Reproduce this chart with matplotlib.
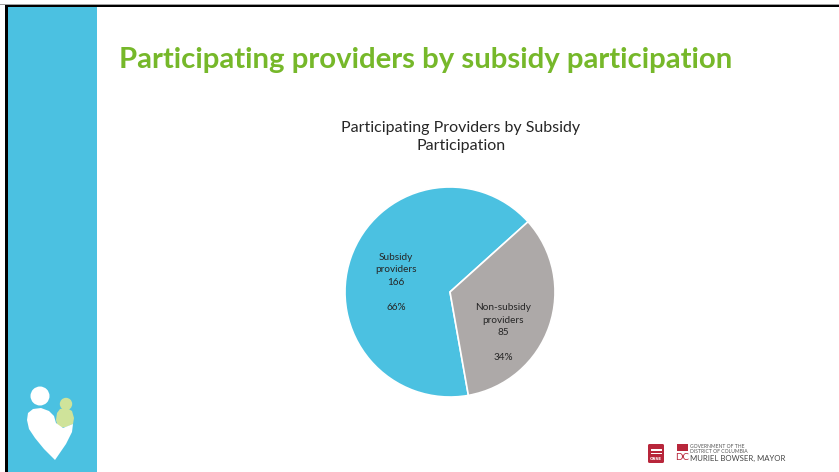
import numpy as np
from matplotlib import pyplot as plt
from matplotlib.patches import Rectangle, Circle, Polygon, FancyBboxPatch

# data
categories = ['Subsidy providers', 'Non-subsidy providers']
counts = [166, 85]
pct_labels = ['66%', '34%']
colors = ['#4BC1E1', '#ADA9A8']

slide_title = 'Participating providers by subsidy participation'
chart_title = 'Participating Providers by Subsidy\nParticipation'

W, H = 839, 472
fig = plt.figure(figsize=(W / 100, H / 100), dpi=100)
fig.patch.set_facecolor('white')

# slide background in pixel coords
bg = fig.add_axes([0, 0, 1, 1])
bg.set_xlim(0, W)
bg.set_ylim(H, 0)
bg.axis('off')

bg.add_patch(Rectangle((0, 3.5), W, 1.2, color='#A0A0A0', lw=0))
bg.add_patch(Rectangle((5, 4.7), W, 2.6, color='black', lw=0))
bg.add_patch(Rectangle((5, 4.7), 2.8, H, color='black', lw=0))
bg.add_patch(Rectangle((7.8, 7.3), 89.5, H, color='#4BC1E1', lw=0))

# little logo on the stripe
bg.add_patch(Circle((40, 396), 9.5, color='white', lw=0))
bg.add_patch(Polygon([(57, 413), (60, 409), (67, 408), (72, 411), (74, 418),
                      (73, 424), (66, 427), (58, 428), (56, 420)],
                     closed=True, color='#CFE39A', lw=0))
bg.add_patch(Circle((66, 404), 6.2, color='#CFE39A', lw=0))
bg.add_patch(Polygon([(27, 420), (28, 413), (33, 409), (41, 408), (49, 411),
                      (54, 416), (56, 423), (63, 428), (73, 424), (72, 432),
                      (66, 444), (55, 460), (44, 449), (35, 438), (29, 429)],
                     closed=True, color='white', lw=0))

bg.text(425.5, 60, slide_title, color='#76B82A', fontsize=21.2, fontweight='bold',
        family='Lato', ha='center', va='center')

# DC / OSSE logo bottom right
bg.add_patch(FancyBboxPatch((648, 444), 16, 19, boxstyle='round,pad=0,rounding_size=1.5',
                            color='#B8263B', lw=0))
for yy in (449, 452.5):
    bg.add_patch(Rectangle((650.5, yy), 11, 1.6, color='white', lw=0))
bg.text(656, 459.5, 'OSSE', color='white', fontsize=3, fontweight='bold',
        ha='center', va='center', family='DejaVu Sans')
bg.add_patch(Rectangle((677, 444), 11, 7, color='#B8263B', lw=0))
bg.text(682.5, 457, 'DC', color='#B8263B', fontsize=7, ha='center', va='center',
        family='Lato')
bg.text(690, 446.5, 'GOVERNMENT OF THE', color='#555555', fontsize=3.6,
        ha='left', va='center', family='Lato')
bg.text(690, 451.5, 'DISTRICT OF COLUMBIA', color='#555555', fontsize=3.6,
        ha='left', va='center', family='Lato')
bg.text(690, 458, 'MURIEL BOWSER, MAYOR', color='#444444', fontsize=5.6,
        ha='left', va='center', family='Lato')

bg.text(461, 137, chart_title, color='#262626', fontsize=11.5, family='Lato',
        ha='center', va='center', linespacing=1.4)

# pie
cx, cy, r = 450, 292, 105
ax = fig.add_axes([(cx - r) / W, (H - cy - r) / H, 2 * r / W, 2 * r / H])
wedges, _ = ax.pie(counts, colors=colors, startangle=42, counterclock=True,
                   wedgeprops=dict(edgecolor='white', linewidth=1.2))
ax.set_xlim(-1, 1)
ax.set_ylim(-1, 1)
ax.set_aspect('auto')

label_pos = [(-0.514, 0.21, -0.143), (0.505, -0.267, -0.62)]
for i in range(len(counts)):
    x, y1, y2 = label_pos[i]
    name = categories[i].replace(' ', '\n')
    ax.text(x, y1, name + '\n' + str(counts[i]), ha='center', va='center',
            fontsize=7.2, family='Lato', color='#262626', linespacing=1.5)
    ax.text(x, y2, pct_labels[i], ha='center', va='center',
            fontsize=7.2, family='Lato', color='#262626')

fig.savefig('out.png', dpi=100)
